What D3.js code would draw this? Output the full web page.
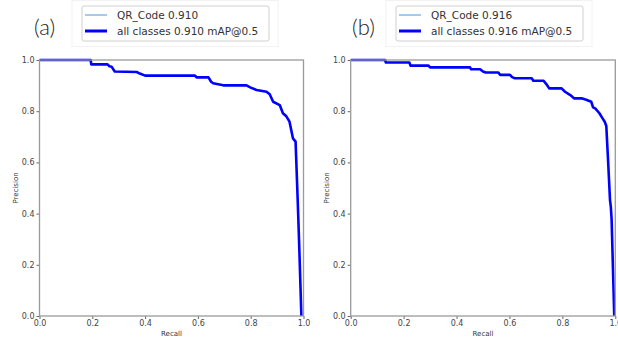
<!DOCTYPE html>
<html>
<head>
<meta charset="utf-8">
<script src="https://cdn.jsdelivr.net/npm/d3@7"></script>
<style>
  body { margin: 0; background: #fff; }
  svg { display: block; }
  .tick text { font-family: "DejaVu Sans", sans-serif; font-size: 8px; fill: #444; }
  .tick line { stroke: #666; }
</style>
</head>
<body>
<svg id="chart" width="618" height="342"></svg>
<script>
// PR curve for panel (a)
const recallA = [0, 0.194, 0.196, 0.257, 0.265, 0.273, 0.285, 0.368, 0.38, 0.40, 0.589, 0.595, 0.64, 0.65, 0.658, 0.696, 0.784, 0.80, 0.822, 0.86, 0.872, 0.885, 0.91, 0.922, 0.935, 0.947, 0.96, 0.97, 0.972, 0.978, 0.983, 0.992];
const precisionA = [1, 1, 0.983, 0.983, 0.976, 0.974, 0.955, 0.953, 0.947, 0.939, 0.939, 0.932, 0.932, 0.915, 0.909, 0.901, 0.901, 0.892, 0.883, 0.876, 0.866, 0.837, 0.824, 0.792, 0.78, 0.759, 0.694, 0.681, 0.624, 0.453, 0.3, 0];

// PR curve for panel (b)
const recallB = [0, 0.13, 0.133, 0.222, 0.226, 0.294, 0.30, 0.451, 0.455, 0.489, 0.50, 0.51, 0.558, 0.565, 0.602, 0.61, 0.62, 0.684, 0.69, 0.729, 0.74, 0.75, 0.797, 0.81, 0.83, 0.845, 0.875, 0.89, 0.909, 0.916, 0.924, 0.94, 0.95, 0.96, 0.966, 0.972, 0.98, 0.983, 0.986, 0.996];
const precisionB = [1, 1, 0.99, 0.99, 0.978, 0.978, 0.971, 0.971, 0.964, 0.964, 0.955, 0.951, 0.951, 0.942, 0.942, 0.933, 0.929, 0.929, 0.919, 0.919, 0.905, 0.889, 0.889, 0.876, 0.863, 0.85, 0.85, 0.845, 0.837, 0.815, 0.811, 0.792, 0.775, 0.759, 0.742, 0.622, 0.453, 0.427, 0.38, 0];

const tickValues = [0, 0.2, 0.4, 0.6, 0.8, 1.0];
const panelTags = ['(a)', '(b)'];
const classNames = ['QR_Code', 'QR_Code'];
const mapValues = ['0.910', '0.916'];

const svg = d3.select('#chart');

const panels = [
  { left: 39.5, right: 303.5, labelX: 34, legendX: 82, recall: recallA, precision: precisionA },
  { left: 350.7, right: 615.3, labelX: 352, legendX: 396, recall: recallB, precision: precisionB }
];

panels.forEach((p, i) => {
  const top = 60;
  const bottom = 316;
  const x = d3.scaleLinear().domain([0, 1]).range([p.left, p.right]);
  const y = d3.scaleLinear().domain([0, 1]).range([bottom, top]);
  const pts = p.recall.map((r, k) => [r, p.precision[k]]);

  // faint outline of the pasted figure
  svg.append('rect')
    .attr('x', p.legendX - 10).attr('y', 0.5)
    .attr('width', 206).attr('height', 46)
    .attr('fill', 'none').attr('stroke', '#f2f2f2');

  const line = d3.line().x(d => x(d[0])).y(d => y(d[1]));

  svg.append('path')
    .attr('d', line(pts))
    .attr('fill', 'none')
    .attr('stroke', '#8ab8e6')
    .attr('stroke-width', 1);

  svg.append('path')
    .attr('d', line(pts))
    .attr('fill', 'none')
    .attr('stroke', '#0000ff')
    .attr('stroke-width', 2.6)
    .attr('stroke-linejoin', 'round');

  svg.append('g')
    .attr('transform', `translate(0,${bottom})`)
    .call(d3.axisBottom(x).tickValues(tickValues).tickFormat(d3.format('.1f')).tickSize(3).tickPadding(1.5))
    .call(g => g.select('.domain').remove());

  svg.append('g')
    .attr('transform', `translate(${p.left},0)`)
    .call(d3.axisLeft(y).tickValues(tickValues).tickFormat(d3.format('.1f')).tickSize(3).tickPadding(2))
    .call(g => g.select('.domain').remove());

  svg.append('rect')
    .attr('x', p.left).attr('y', top)
    .attr('width', p.right - p.left).attr('height', bottom - top)
    .attr('fill', 'none')
    .attr('stroke', '#9a9a9a')
    .attr('stroke-width', 1.3);

  svg.append('text')
    .attr('x', (p.left + p.right) / 2).attr('y', 336)
    .attr('text-anchor', 'middle')
    .style('font-family', 'DejaVu Sans, sans-serif')
    .style('font-size', '7px').style('fill', '#333')
    .text('Recall');

  svg.append('text')
    .attr('transform', `translate(${p.left - 22},188) rotate(-90)`)
    .attr('text-anchor', 'middle')
    .style('font-family', 'DejaVu Sans, sans-serif')
    .style('font-size', '7px').style('fill', '#333')
    .text('Precision');

  // panel tag
  svg.append('text')
    .attr('x', p.labelX - (i === 0 ? 0 : 0)).attr('y', 35)
    .style('font-family', 'Lato, "Open Sans", sans-serif')
    .style('font-weight', 300)
    .style('font-size', '22px').style('fill', '#222')
    .text(panelTags[i]);

  // legend
  const lg = svg.append('g').attr('transform', `translate(${p.legendX},6)`);
  lg.append('rect')
    .attr('width', 187).attr('height', 35).attr('rx', 2)
    .attr('fill', '#fff').attr('stroke', '#d0d0d0');
  lg.append('line').attr('x1', 3).attr('x2', 25).attr('y1', 9).attr('y2', 9)
    .attr('stroke', '#8ab8e6').attr('stroke-width', 1.5);
  lg.append('line').attr('x1', 3).attr('x2', 25).attr('y1', 25).attr('y2', 25)
    .attr('stroke', '#0000ff').attr('stroke-width', 3);
  lg.append('text').attr('x', 35).attr('y', 13)
    .style('font-family', 'DejaVu Sans, sans-serif').style('font-size', '10.5px').style('fill', '#333')
    .text(`${classNames[i]} ${mapValues[i]}`);
  lg.append('text').attr('x', 35).attr('y', 29)
    .style('font-family', 'DejaVu Sans, sans-serif').style('font-size', '10.5px').style('fill', '#333')
    .text(`all classes ${mapValues[i]} mAP@0.5`);
});
</script>
</body>
</html>
